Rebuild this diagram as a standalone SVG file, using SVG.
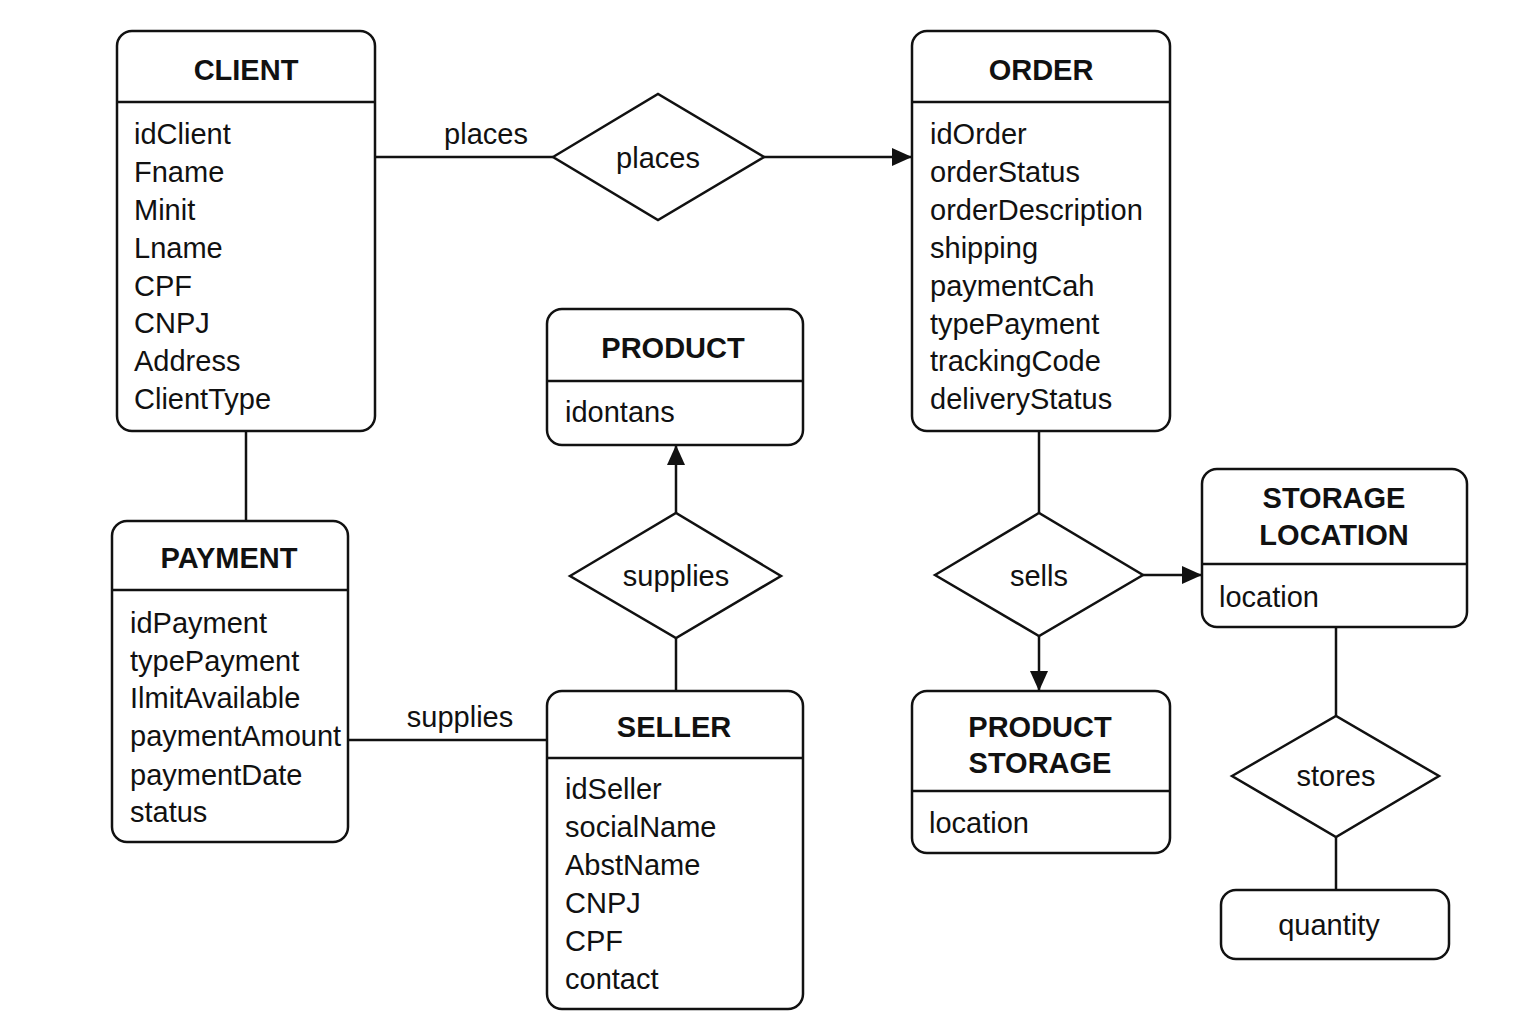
<svg xmlns="http://www.w3.org/2000/svg" width="1536" height="1024" viewBox="0 0 1536 1024">
<style>
.box{fill:#fff;stroke:#111;stroke-width:2.5}
.sep{stroke:#111;stroke-width:2.5}
.dia{fill:#fff;stroke:#111;stroke-width:2.5}
.ln{stroke:#111;stroke-width:2.5;fill:none}
.t{font-family:"Liberation Sans",Arial,sans-serif;font-size:29px;font-weight:bold;fill:#111;text-anchor:middle}
.a{font-family:"Liberation Sans",Arial,sans-serif;font-size:29px;fill:#111}
.c{font-family:"Liberation Sans",Arial,sans-serif;font-size:29px;fill:#111;text-anchor:middle}
</style>
<defs>
<marker id="ah" viewBox="0 0 20 20" refX="20" refY="10" markerWidth="20" markerHeight="20" markerUnits="userSpaceOnUse" orient="auto">
<path d="M0,1 L20,10 L0,19 z" fill="#111"/>
</marker>
</defs>
<rect width="1536" height="1024" fill="#fff"/>
<g id="connectors">
<line class="ln" x1="375" y1="157" x2="553" y2="157"/>
<text class="c" x="486" y="144">places</text>
<line class="ln" x1="764" y1="157" x2="912" y2="157" marker-end="url(#ah)"/>
<line class="ln" x1="246" y1="431" x2="246" y2="521"/>
<line class="ln" x1="348" y1="740" x2="547" y2="740"/>
<text class="c" x="460" y="727">supplies</text>
<line class="ln" x1="676" y1="513" x2="676" y2="445" marker-end="url(#ah)"/>
<line class="ln" x1="676" y1="638" x2="676" y2="691"/>
<line class="ln" x1="1039" y1="431" x2="1039" y2="513"/>
<line class="ln" x1="1143" y1="575" x2="1202" y2="575" marker-end="url(#ah)"/>
<line class="ln" x1="1039" y1="636" x2="1039" y2="691" marker-end="url(#ah)"/>
<line class="ln" x1="1336" y1="627" x2="1336" y2="716"/>
<line class="ln" x1="1336" y1="837" x2="1336" y2="890"/>
</g>
<g id="client">
<rect class="box" x="117" y="31" width="258" height="400" rx="15"/>
<line class="sep" x1="117" y1="102" x2="375" y2="102"/>
<text class="t" x="246" y="80">CLIENT</text>
<text class="a" x="134" y="144">idClient</text>
<text class="a" x="134" y="182">Fname</text>
<text class="a" x="134" y="220">Minit</text>
<text class="a" x="134" y="258">Lname</text>
<text class="a" x="134" y="296">CPF</text>
<text class="a" x="134" y="333">CNPJ</text>
<text class="a" x="134" y="371">Address</text>
<text class="a" x="134" y="409">ClientType</text>
</g>
<g id="places">
<polygon class="dia" points="553,157 658,94 764,157 658,220"/>
<text class="c" x="658" y="168">places</text>
</g>
<g id="order">
<rect class="box" x="912" y="31" width="258" height="400" rx="15"/>
<line class="sep" x1="912" y1="102" x2="1170" y2="102"/>
<text class="t" x="1041" y="80">ORDER</text>
<text class="a" x="930" y="144">idOrder</text>
<text class="a" x="930" y="182">orderStatus</text>
<text class="a" x="930" y="220">orderDescription</text>
<text class="a" x="930" y="258">shipping</text>
<text class="a" x="930" y="296">paymentCah</text>
<text class="a" x="930" y="334">typePayment</text>
<text class="a" x="930" y="371">trackingCode</text>
<text class="a" x="930" y="409">deliveryStatus</text>
</g>
<g id="product">
<rect class="box" x="547" y="309" width="256" height="136" rx="15"/>
<line class="sep" x1="547" y1="381" x2="803" y2="381"/>
<text class="t" x="673" y="358">PRODUCT</text>
<text class="a" x="565" y="422">idontans</text>
</g>
<g id="supplies">
<polygon class="dia" points="570,576 676,513 781,576 676,638"/>
<text class="c" x="676" y="586">supplies</text>
</g>
<g id="payment">
<rect class="box" x="112" y="521" width="236" height="321" rx="15"/>
<line class="sep" x1="112" y1="590" x2="348" y2="590"/>
<text class="t" x="229" y="568">PAYMENT</text>
<text class="a" x="130" y="633">idPayment</text>
<text class="a" x="130" y="671">typePayment</text>
<text class="a" x="130" y="708">IlmitAvailable</text>
<text class="a" x="130" y="746">paymentAmount</text>
<text class="a" x="130" y="785">paymentDate</text>
<text class="a" x="130" y="822">status</text>
</g>
<g id="seller">
<rect class="box" x="547" y="691" width="256" height="318" rx="15"/>
<line class="sep" x1="547" y1="758" x2="803" y2="758"/>
<text class="t" x="674" y="737">SELLER</text>
<text class="a" x="565" y="799">idSeller</text>
<text class="a" x="565" y="837">socialName</text>
<text class="a" x="565" y="875">AbstName</text>
<text class="a" x="565" y="913">CNPJ</text>
<text class="a" x="565" y="951">CPF</text>
<text class="a" x="565" y="989">contact</text>
</g>
<g id="sells">
<polygon class="dia" points="935,575 1039,513 1143,575 1039,636"/>
<text class="c" x="1039" y="586">sells</text>
</g>
<g id="storage-location">
<rect class="box" x="1202" y="469" width="265" height="158" rx="15"/>
<line class="sep" x1="1202" y1="564" x2="1467" y2="564"/>
<text class="t" x="1334" y="508">STORAGE</text>
<text class="t" x="1334" y="545">LOCATION</text>
<text class="a" x="1219" y="607">location</text>
</g>
<g id="product-storage">
<rect class="box" x="912" y="691" width="258" height="162" rx="15"/>
<line class="sep" x1="912" y1="791" x2="1170" y2="791"/>
<text class="t" x="1040" y="737">PRODUCT</text>
<text class="t" x="1040" y="773">STORAGE</text>
<text class="a" x="929" y="833">location</text>
</g>
<g id="stores">
<polygon class="dia" points="1232,776 1336,716 1439,776 1336,837"/>
<text class="c" x="1336" y="786">stores</text>
</g>
<g id="quantity">
<rect class="box" x="1221" y="890" width="228" height="69" rx="15"/>
<text class="c" x="1329" y="935">quantity</text>
</g>
</svg>
